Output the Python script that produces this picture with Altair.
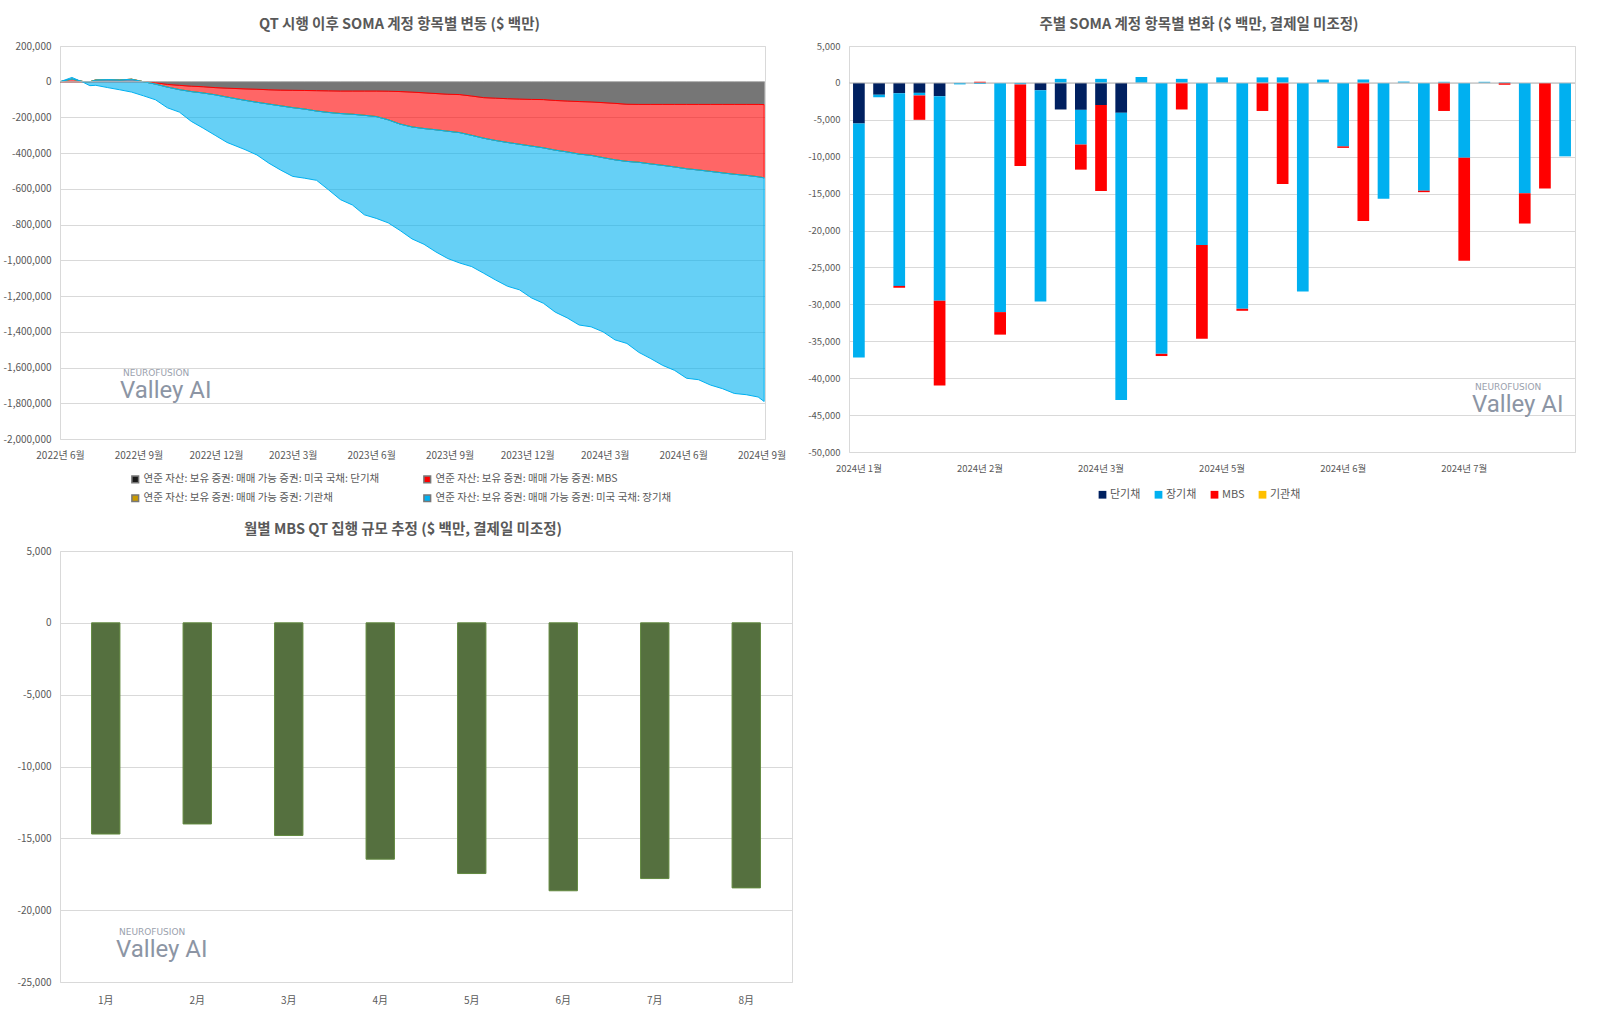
import altair as alt
import pandas as pd

FONT = "Noto Sans CJK KR"
LBL = "#595959"
GRID = "#D9D9D9"
NUMFMT = "replace(format(datum.value, ','), '\u2212', '-')"

# ---------------- Panel A: cumulative change since QT start ($ millions) ----------------
a_dates = ["2022-06-01", "2022-06-15", "2022-06-29", "2022-07-06", "2022-07-13", "2022-07-27",
           "2022-08-10", "2022-08-24", "2022-09-07", "2022-09-21", "2022-10-05", "2022-10-19",
           "2022-11-02", "2022-11-16", "2022-11-30", "2022-12-14", "2023-01-04", "2023-01-18",
           "2023-02-01", "2023-02-15", "2023-03-01", "2023-03-15", "2023-03-29", "2023-04-12",
           "2023-04-26", "2023-05-10", "2023-05-24", "2023-06-07", "2023-06-21", "2023-07-05",
           "2023-07-19", "2023-08-02", "2023-08-16", "2023-08-30", "2023-09-13", "2023-09-27",
           "2023-10-11", "2023-10-25", "2023-11-08", "2023-11-22", "2023-12-06", "2023-12-20",
           "2024-01-03", "2024-01-17", "2024-01-31", "2024-02-14", "2024-02-28", "2024-03-13",
           "2024-03-27", "2024-04-10", "2024-04-24", "2024-05-08", "2024-05-22", "2024-06-05",
           "2024-06-19", "2024-07-03", "2024-07-17", "2024-07-31", "2024-08-14", "2024-08-28",
           "2024-09-04"]
a_bills = [0, 0, 0, 0, 0, 0, 0, 0, 0, -5000, -15000, -20000, -25000, -28000, -33000, -36000,
           -40000, -42000, -45000, -47000, -48000, -49000, -50000, -51000, -52000, -52000, -52000,
           -52000, -53000, -55000, -58000, -62000, -66000, -70000, -72000, -80000, -89000, -92000,
           -95000, -97000, -99000, -100000, -105000, -108000, -111000, -113000, -117000, -121000,
           -126000, -127000, -127000, -127000, -127000, -127000, -127000, -127000, -127000,
           -127000, -127000, -127000, -128000]
a_mbs = [0, 15000, 0, 0, 10000, 12000, 10000, 14000, 0, -8000, -15000, -24000, -30000, -35000,
         -40000, -50000, -64000, -73000, -80000, -88000, -97000, -104000, -114000, -121000,
         -126000, -130000, -136000, -143000, -160000, -182000, -195000, -200000, -203000,
         -207000, -213000, -220000, -227000, -237000, -245000, -253000, -261000, -270000,
         -278000, -285000, -294000, -299000, -308000, -316000, -320000, -324000, -333000,
         -341000, -350000, -360000, -367000, -375000, -383000, -391000, -397000, -405000, -410000]
a_agency = [0, 0, 0, 0, 0, 0, 0, 0, 0, 0, 0, 0, 0, 0, 0, 0, 0, 0, 0, 0, 0, 0, 0, 0, 0, 0, 0, 0, 0,
            0, 0, 0, 0, 0, 0, 0, 0, 0, 0, 0, 0, 0, 0, 0, 0, 0, 0, 0, 0, 0, 0, 0, 0, 0, 0, 0, 0, 0,
            0, 0, 0]
a_notes = [0, 9000, -5000, -22000, -30000, -45000, -55000, -72000, -79000, -88000,
           -116000, -126000, -167000, -197000, -227000, -254000, -276000, -295000, -331000, -360000,
           -385000, -387000, -388000, -433000, -482000, -508000, -557000, -570000, -577000, -596000,
           -627000, -648000, -684000, -713000, -730000, -735000, -756000, -781000, -805000, -815000,
           -850000, -870000, -907000, -929000, -957000, -960000, -975000, -1008000, -1019000, -1064000,
           -1090000, -1120000, -1139000, -1173000, -1174000, -1196000, -1208000, -1227000, -1228000,
           -1233000, -1252000]
a_series = ["연준 자산: 보유 증권: 매매 가능 증권: 미국 국채: 단기채",
            "연준 자산: 보유 증권: 매매 가능 증권: MBS",
            "연준 자산: 보유 증권: 매매 가능 증권: 기관채",
            "연준 자산: 보유 증권: 매매 가능 증권: 미국 국채: 장기채"]
a_fill = ["#1A1A1A", "#FF0000", "#C99A00", "#00B0F0"]
a_stroke = ["#777777", "#FF0000", "#C99A00", "#00B0F0"]
a_ticks = [(2022, 6), (2022, 9), (2022, 12), (2023, 3), (2023, 6), (2023, 9), (2023, 12),
           (2024, 3), (2024, 6), (2024, 9)]
a_yticks = [-2000000, -1800000, -1600000, -1400000, -1200000, -1000000, -800000,
            -600000, -400000, -200000, 0, 200000]

# ---------------- Panel B: weekly change by holding ($ millions) ----------------
b_weeks = ["2024-01-03", "2024-01-10", "2024-01-17", "2024-01-24", "2024-01-31", "2024-02-07",
           "2024-02-14", "2024-02-21", "2024-02-28", "2024-03-06", "2024-03-13", "2024-03-20",
           "2024-03-27", "2024-04-03", "2024-04-10", "2024-04-17", "2024-04-24", "2024-05-01",
           "2024-05-08", "2024-05-15", "2024-05-22", "2024-05-29", "2024-06-05", "2024-06-12",
           "2024-06-19", "2024-06-26", "2024-07-03", "2024-07-10", "2024-07-17", "2024-07-24",
           "2024-07-31", "2024-08-07", "2024-08-14", "2024-08-21", "2024-08-28", "2024-09-04"]
b_bills = [-5500, -1600, -1400, -1350, -1800, 0, 0, 0, 0, -1000, -3600, -3650, -3000, -4050,
           0, 0, 0, 0, 0, 0, 0, 0, 0, 0, 0, 0, 0, 0, 0, 0, 0, 0, 0, 0, 0, 0]
b_notes = [-31700, -350, -26100, -350, -27700, -200, -150, -31050, -200, -28600, 550, -4700,
           550, -38900, 800, -36700, 550, -21950, 750, -30600, 750, 750, -28250, 450, -8600,
           450, -15700, 180, -14600, 150, -10150, 150, 100, -14950, 0, -9950]
b_mbs = [0, 0, -250, -3300, -11500, 0, 150, -3050, -11050, 0, 0, -3400, -11650, 0, 0, -300,
         -3600, -12700, 0, -270, -3800, -13700, 0, 0, -200, -18700, 0, 0, -200, -3800, -13950,
         0, -250, -4100, -14300, 0]
b_agency = [0, 0, 0, 0, 0, 0, 0, 0, 0, 0, 0, 0, 0, 0, 0, 0, 0, 0, 0, 0, 0, 0, 0, 0, 0, 0, 0,
            0, 0, 0, 0, 0, 0, 0, 0, 0]
b_series = ["단기채", "장기채", "MBS", "기관채"]
b_colors = ["#002060", "#00B0F0", "#FF0000", "#FFC000"]
b_label_weeks = ["2024-01-03", "2024-02-14", "2024-03-27", "2024-05-08", "2024-06-19", "2024-07-31"]
b_yticks = [-50000, -45000, -40000, -35000, -30000, -25000, -20000, -15000, -10000, -5000, 0, 5000]

# ---------------- Panel C: monthly MBS QT ($ millions) ----------------
c_months = ["1月", "2月", "3月", "4月", "5月", "6月", "7月", "8月"]
c_values = [-14700, -14000, -14800, -16450, -17450, -18650, -17800, -18450]
c_yticks = [-25000, -20000, -15000, -10000, -5000, 0, 5000]

# ---------- build tables ----------
rows = []
series_vals = [a_bills, a_mbs, a_agency, a_notes]
for i, d in enumerate(a_dates):
    cum = 0
    for k, s in enumerate(a_series):
        upper = cum
        cum = cum + series_vals[k][i]
        rows.append({"date": d, "series": s, "upper": upper, "lower": cum})
dfA = pd.DataFrame(rows)

rowsB = []
for i, w in enumerate(b_weeks):
    for k, (s, vals) in enumerate(zip(b_series, [b_bills, b_notes, b_mbs, b_agency])):
        rowsB.append({"week": w, "series": s, "value": vals[i], "k": k})
dfB = pd.DataFrame(rowsB)

dfC = pd.DataFrame({"month": c_months, "value": c_values})


def wm(x, y):
    small = alt.Chart(pd.DataFrame({"t": ["NEUROFUSION"]})).mark_text(
        font="DejaVu Sans", fontSize=9, color="#9AA1AD", align="left", baseline="middle"
    ).encode(text="t:N", x=alt.value(x + 3), y=alt.value(y - 2))
    large = alt.Chart(pd.DataFrame({"t": ["Valley AI"]})).mark_text(
        font="Roboto", fontSize=24, color="#8C95A4", align="left", baseline="middle"
    ).encode(text="t:N", x=alt.value(x), y=alt.value(y + 16))
    return [small, large]


def title(text, dx):
    return alt.TitleParams(text, anchor="middle", dx=dx)


# ---------- Panel A ----------
A_W, A_H = 705, 393
xA = alt.X("date:T",
           scale=alt.Scale(type="utc",
                           domain=[alt.DateTime(year=2022, month=6, date=1, utc=True),
                                   alt.DateTime(year=2024, month=9, date=5, utc=True)]),
           axis=alt.Axis(values=[alt.DateTime(year=y, month=m, date=1, utc=True) for y, m in a_ticks],
                         labelExpr="utcFormat(datum.value, '%Y년 %-m월')",
                         title=None, grid=False, ticks=False, domain=False,
                         labelFlush=False, labelOverlap=False, labelPadding=11,
                         labelFontSize=10))
yA_scale = alt.Scale(domain=[-2000000, 200000], nice=False)
yA_axis = alt.Axis(values=a_yticks, labelExpr=NUMFMT, title=None, labelPadding=9)
colorA = alt.Color("series:N",
                   scale=alt.Scale(domain=a_series, range=a_fill),
                   legend=alt.Legend(orient="none", legendX=70, legendY=428, columns=2,
                                     direction="horizontal",
                                     columnPadding=40, rowPadding=5, symbolType="square",
                                     symbolSize=45, labelFontSize=10.5, labelLimit=400,
                                     title=None, labelOffset=3))
a_layers = []
for k, s in enumerate(a_series):
    a_layers.append(
        alt.Chart(dfA).transform_filter(alt.datum.series == s)
        .mark_area(fillOpacity=0.6, stroke=a_stroke[k], strokeWidth=1, interpolate="linear")
        .encode(x=xA,
                y=alt.Y("upper:Q", scale=yA_scale, axis=yA_axis),
                y2="lower:Q",
                color=colorA)
    )
zeroA = alt.Chart(pd.DataFrame({"v": [0]})).mark_rule(color="#BFBFBF", strokeWidth=1).encode(
    y=alt.Y("v:Q", scale=yA_scale, axis=yA_axis))
A = alt.layer(*a_layers, zeroA, *wm(60, 329)).properties(
    width=A_W, height=A_H,
    title=title("QT 시행 이후 SOMA 계정 항목별 변동 ($ 백만)", -13))

# ---------- Panel B ----------
B_W, B_H = 726, 406
yB_scale = alt.Scale(domain=[-50000, 5000], nice=False)
yB_axis = alt.Axis(values=b_yticks, labelExpr=NUMFMT, title=None, labelPadding=9,
                   labelFontSize=9.5)
barsB = alt.Chart(dfB).mark_bar().encode(
    x=alt.X("week:O", sort=b_weeks,
            scale=alt.Scale(paddingInner=0.42, paddingOuter=0.2),
            axis=alt.Axis(values=b_label_weeks, labelAngle=0,
                          labelExpr="utcFormat(toDate(datum.value), '%Y년 %-m월')",
                          title=None, ticks=False, domain=False, labelPadding=11,
                          labelFontSize=9.5)),
    y=alt.Y("value:Q", stack="zero", scale=yB_scale, axis=yB_axis),
    color=alt.Color("series:N", scale=alt.Scale(domain=b_series, range=b_colors),
                    legend=alt.Legend(orient="none", legendX=248, legendY=443,
                                      direction="horizontal", symbolType="square",
                                      symbolSize=60, labelFontSize=11, columnPadding=12,
                                      labelOffset=2, title=None)),
    order=alt.Order("k:Q"))
zeroB = alt.Chart(pd.DataFrame({"v": [0]})).mark_rule(color="#BFBFBF", strokeWidth=1).encode(
    y=alt.Y("v:Q", scale=yB_scale, axis=yB_axis))
B = alt.layer(barsB, zeroB, *wm(623, 343)).properties(
    width=B_W, height=B_H,
    title=title("주별 SOMA 계정 항목별 변화 ($ 백만, 결제일 미조정)", -13))

# ---------- Panel C ----------
C_W, C_H = 732, 431
barsC = alt.Chart(dfC).mark_bar(color="#55703F", stroke="#62893F", strokeWidth=1).encode(
    x=alt.X("month:N", sort=c_months,
            scale=alt.Scale(paddingInner=0.69, paddingOuter=0.345),
            axis=alt.Axis(labelAngle=0, title=None, ticks=False, domain=False,
                          labelPadding=13, labelFontSize=10)),
    y=alt.Y("value:Q", scale=alt.Scale(domain=[-25000, 5000], nice=False),
            axis=alt.Axis(values=c_yticks, labelExpr=NUMFMT, title=None, labelPadding=9)))
C = alt.layer(barsC, *wm(56, 383)).properties(
    width=C_W, height=C_H,
    title=title("월별 MBS QT 집행 규모 추정 ($ 백만, 결제일 미조정)", -23))

chart = alt.concat(A, B, C, columns=2, spacing={"row": 99, "column": 57},
                   bounds="flush").resolve_scale(
    color="independent", x="independent", y="independent").properties(
    padding={"left": 2, "top": 16, "right": 5, "bottom": 5}, background="white"
).configure_axis(
    labelFont=FONT, labelColor=LBL, labelFontSize=10, gridColor=GRID, gridWidth=1,
    domain=False, ticks=False
).configure_view(stroke=GRID, strokeWidth=1).configure_title(
    font=FONT, fontSize=14.5, fontWeight="bold", color=LBL, offset=9
).configure_legend(labelFont=FONT, labelColor=LBL)

chart.save("out.html", embed_options={"renderer": "svg", "actions": False})
